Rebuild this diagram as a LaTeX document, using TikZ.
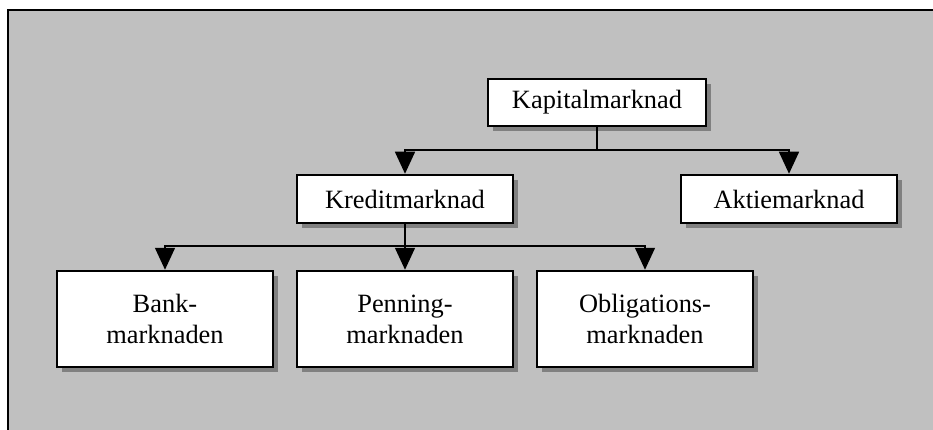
\documentclass[tikz,border=0pt]{standalone}
\usepackage{fontspec}
\setmainfont{Liberation Serif}
\usetikzlibrary{arrows.meta,shadows}
\definecolor{bggray}{HTML}{C0C0C0}
\definecolor{shgray}{HTML}{808080}
\begin{document}
\begin{tikzpicture}[x=1pt,y=-1pt,
  mbox/.style={draw=black,line width=2.5pt,fill=white,minimum width=216pt,inner sep=0pt,align=center,
    font=\fontsize{26.4}{31}\selectfont,
    drop shadow={shadow xshift=5pt,shadow yshift=-5pt,fill=shgray,opacity=1}},
  conn/.style={line width=1.5pt},
  arr/.style={line width=1.5pt,-{Triangle[width=20pt,length=22pt]}}]
\useasboundingbox (0,0) rectangle (933,430);
\clip (0,0) rectangle (933,430);
\draw[fill=bggray,line width=2pt] (8,10) rectangle (950,450);
\node[mbox,minimum width=218pt,minimum height=47pt] (kap) at (597,102.5) {Kapitalmarknad};
\node[mbox,minimum height=48pt] (kred) at (405,199) {Kreditmarknad};
\node[mbox,minimum height=48pt] (akt) at (789,199) {Aktiemarknad};
\node[mbox,minimum height=96pt] (bank) at (165,319) {Bank-\\marknaden};
\node[mbox,minimum height=96pt] (penn) at (405,319) {Penning-\\marknaden};
\node[mbox,minimum height=96pt] (obl) at (645,319) {Obligations-\\marknaden};
\coordinate (j1) at (597,150);
\coordinate (j2) at (405,246);
\draw[conn] (kap.south) -- (j1);
\draw[arr] (j1) -| (kred.north);
\draw[arr] (j1) -| (akt.north);
\draw[conn] (kred.south) -- (j2);
\draw[arr] (j2) -| (bank.north);
\draw[arr] (j2) -- (penn.north);
\draw[arr] (j2) -| (obl.north);
\end{tikzpicture}
\end{document}
